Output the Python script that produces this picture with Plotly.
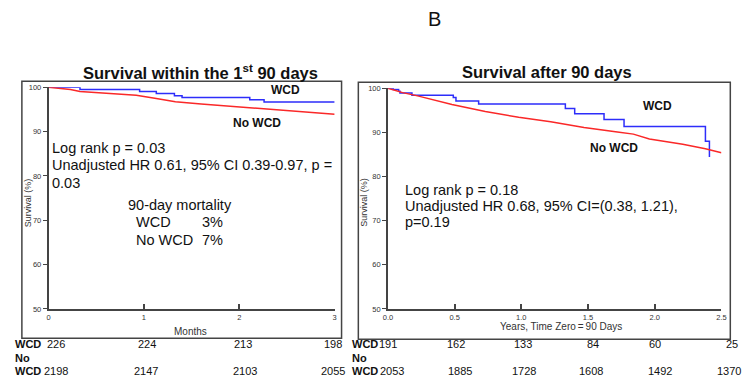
import plotly.graph_objects as go

W, H = 750, 388
OFF = 8  # page body margin of the saved html
def PX(x): return (x - OFF) / W
def PY(y): return 1 - (y - OFF) / H

# ---- Data: left panel (months, survival %) ----
wcd1_x = [0, 0.33, 0.33, 0.955, 1.13, 1.32, 1.40, 2.11, 2.26, 3.0]
wcd1_y = [100, 100, 99.5, 99.05, 98.6, 98.1, 97.7, 97.2, 96.65, 96.65]
no1_x = [0, 0.23, 0.33, 0.57, 0.92, 1.13, 1.33, 1.6, 1.95, 2.3, 2.64, 3.0]
no1_y = [100, 99.5, 99.06, 98.76, 98.2, 97.45, 96.7, 96.2, 95.6, 95.1, 94.5, 93.9]

# ---- Data: right panel (years, survival %) ----
wcd2_x = [0, 0.04, 0.08, 0.09, 0.18, 0.49, 0.51, 0.68, 1.33, 1.40, 1.62, 1.77, 2.38, 2.41, 2.41]
wcd2_y = [100, 99.7, 99.3, 98.9, 98.4, 97.9, 97.1, 96.4, 95.4, 94.2, 92.9, 91.3, 88.0, 88.0, 84.4]
no2_x = [0, 0.11, 0.23, 0.48, 0.73, 0.98, 1.22, 1.47, 1.72, 1.84, 1.96, 2.21, 2.38, 2.5]
no2_y = [100, 99.0, 98.2, 96.3, 94.7, 93.4, 92.4, 91.1, 90.1, 89.6, 88.5, 87.3, 86.3, 85.4]

# ---- Risk tables ----
risk1_x = [0, 1, 2, 3]
risk1_wcd = [226, 224, 213, 198]
risk1_no = [2198, 2147, 2103, 2055]
risk2_x = [0.0, 0.5, 1.0, 1.5, 2.0, 2.5]
risk2_wcd = [191, 162, 133, 84, 60, 25]
risk2_no = [2053, 1885, 1728, 1608, 1492, 1370]

BLUE = "rgb(45,45,250)"
RED = "rgb(250,40,40)"
FONT = "Liberation Sans, Arial, sans-serif"
AX = "#444444"

fig = go.Figure()
fig.add_trace(go.Scatter(x=wcd1_x, y=wcd1_y, mode="lines", line=dict(color=BLUE, width=1.5, shape="hv"),
                         xaxis="x", yaxis="y", showlegend=False))
fig.add_trace(go.Scatter(x=no1_x, y=no1_y, mode="lines", line=dict(color=RED, width=1.5),
                         xaxis="x", yaxis="y", showlegend=False))
fig.add_trace(go.Scatter(x=wcd2_x, y=wcd2_y, mode="lines", line=dict(color=BLUE, width=1.5, shape="hv"),
                         xaxis="x2", yaxis="y2", showlegend=False))
fig.add_trace(go.Scatter(x=no2_x, y=no2_y, mode="lines", line=dict(color=RED, width=1.5),
                         xaxis="x2", yaxis="y2", showlegend=False))

tickfont = dict(family=FONT, size=7.5, color="#333")
common_x = dict(showline=True, linecolor=AX, linewidth=1.5, ticks="inside", ticklen=5,
                tickcolor=AX, tickwidth=1.5, showgrid=False, zeroline=False, tickfont=tickfont)
common_y = dict(showline=True, linecolor=AX, linewidth=1.5, ticks="outside", ticklen=4,
                tickcolor=AX, tickwidth=1, showgrid=False, zeroline=False, tickfont=tickfont,
                range=[50, 100], tickvals=[50, 60, 70, 80, 90, 100])

fig.update_layout(
    width=W, height=H, margin=dict(l=0, r=0, t=0, b=0),
    paper_bgcolor="white", plot_bgcolor="white",
    xaxis=dict(common_x, domain=[PX(44), PX(334)], range=[0, 3], tickvals=[0, 1, 2, 3],
               anchor="y"),
    yaxis=dict(common_y, domain=[PY(312), PY(85)], anchor="x"),
    xaxis2=dict(common_x, domain=[PX(388), PX(726)], range=[0, 2.5],
                tickvals=[0, 0.5, 1.0, 1.5, 2.0, 2.5], tickformat=".1f", anchor="y2"),
    yaxis2=dict(common_y, domain=[PY(312), PY(86)], anchor="x2"),
)

shapes = [
    dict(type="rect", xref="paper", yref="paper", x0=PX(17), x1=PX(341), y0=PY(342), y1=PY(79),
         line=dict(color=AX, width=1.5)),
    dict(type="rect", xref="paper", yref="paper", x0=PX(358), x1=PX(735), y0=PY(343), y1=PY(80),
         line=dict(color=AX, width=1.5)),
]
fig.update_layout(shapes=shapes)

ann = []
def txt(x, y, s, size=13, bold=False, xanchor="left", color="#111", textangle=0):
    ann.append(dict(x=x, y=y, xref="paper", yref="paper", text=(f"<b>{s}</b>" if bold else s),
                    showarrow=False, xanchor=xanchor, yanchor="middle", textangle=textangle,
                    font=dict(family=FONT, size=size, color=color)))

# big label and titles
txt(PX(435), PY(15), "B", size=20, xanchor="center")
txt(PX(198), PY(69), "Survival within the 1<sup>st</sup> 90 days", size=16.5, bold=True, xanchor="center")
txt(PX(549), PY(69), "Survival after 90 days", size=16.5, bold=True, xanchor="center")

# axis titles
txt(PX(24), PY(203), "Survival (%)", size=9, xanchor="center", textangle=-90, color="#333")
txt(PX(364), PY(203), "Survival (%)", size=9, xanchor="center", textangle=-90, color="#333")
txt(PX(188), PY(335), "Months", size=10, xanchor="center", color="#333")
txt(PX(563), PY(330), "Years, Time Zero\u2009=\u200990 Days", size=10, xanchor="center", color="#333")

# left panel annotations
txt(PX(284), PY(88), "WCD", size=12, bold=True, xanchor="center")
txt(PX(255), PY(122), "No WCD", size=12, bold=True, xanchor="center")
txt(PX(45), PY(147), "Log rank p = 0.03", size=14.5)
txt(PX(45), PY(165), "Unadjusted HR 0.61, 95% CI 0.39-0.97, p =", size=14.5)
txt(PX(45), PY(183), "0.03", size=14.5)
txt(PX(123), PY(206), "90-day mortality", size=14.5)
txt(PX(131), PY(223), "WCD", size=14.5)
txt(PX(198), PY(223), "3%", size=14.5)
txt(PX(131), PY(241), "No WCD", size=14.5)
txt(PX(198), PY(241), "7%", size=14.5)

# right panel annotations
txt(PX(661), PY(104), "WCD", size=12, bold=True, xanchor="center")
txt(PX(617), PY(147), "No WCD", size=12, bold=True, xanchor="center")
txt(PX(403), PY(190), "Log rank p = 0.18", size=14.5)
txt(PX(403), PY(207), "Unadjusted HR 0.68, 95% CI=(0.38, 1.21),", size=14.5)
txt(PX(403), PY(223), "p=0.19", size=14.5)

# risk table row labels
txt(PX(8), PY(348), "WCD", size=11, bold=True)
txt(PX(8), PY(362), "No", size=11, bold=True)
txt(PX(8), PY(376), "WCD", size=11, bold=True)
txt(PX(350), PY(348), "WCD", size=11, bold=True)
txt(PX(350), PY(362), "No", size=11, bold=True)
txt(PX(350), PY(376), "WCD", size=11, bold=True)

def risk_row(xs, vals, xref, y, shifts):
    for i, (xv, v) in enumerate(zip(xs, vals)):
        ann.append(dict(x=xv, y=PY(y), xref=xref, yref="paper", text=str(v), showarrow=False,
                        xanchor="center", yanchor="middle", xshift=shifts[i],
                        font=dict(family=FONT, size=11, color="#111")))

risk_row(risk1_x, risk1_wcd, "x", 348, [7, 3, 4, -2])
risk_row(risk1_x, risk1_no, "x", 376, [7, 2, 6, -2])
risk_row(risk2_x, risk2_wcd, "x2", 348, [0, 1, 2, 5, 0, 11])
risk_row(risk2_x, risk2_no, "x2", 376, [4, 5, 3, 3, 5, 8])

fig.update_layout(annotations=ann)
fig.write_html("out.html")
